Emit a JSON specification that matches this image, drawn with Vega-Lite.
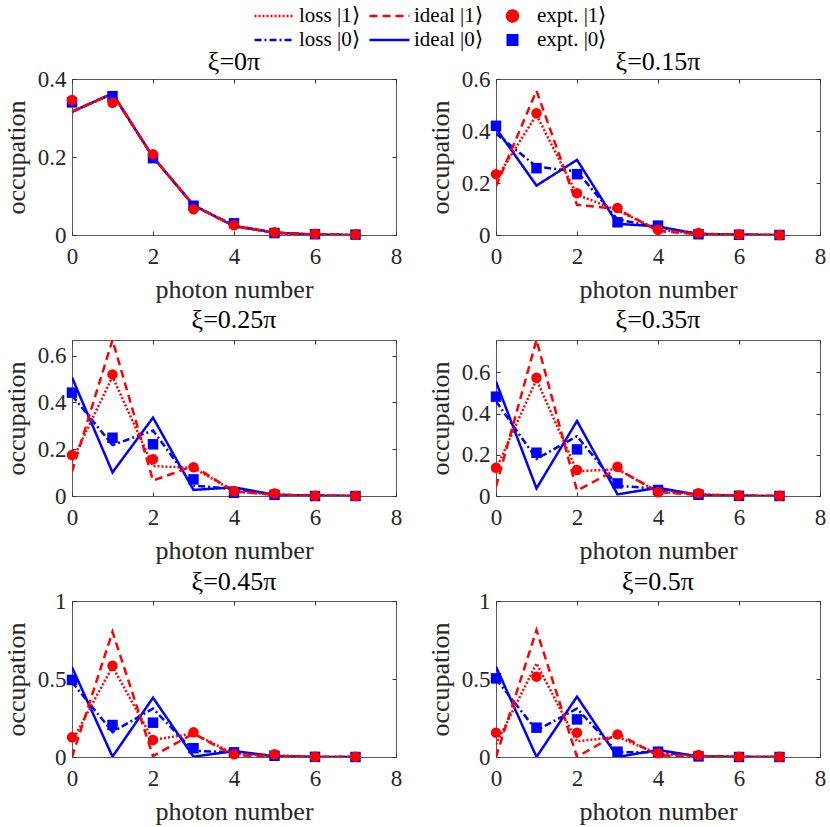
{
  "$schema": "https://vega.github.io/schema/vega-lite/v6.json",
  "padding": {"left": 2, "top": 6, "right": 5, "bottom": 5},
  "bounds": "flush",
  "columns": 2,
  "spacing": {"row": 105, "column": 100},
  "data": {"values": [
    {"p":"a","s":"loss |0⟩","n":0,"v":0.316},{"p":"a","s":"loss |0⟩","n":1,"v":0.362},{"p":"a","s":"loss |0⟩","n":2,"v":0.199},{"p":"a","s":"loss |0⟩","n":3,"v":0.077},{"p":"a","s":"loss |0⟩","n":4,"v":0.024},{"p":"a","s":"loss |0⟩","n":5,"v":0.006},{"p":"a","s":"loss |0⟩","n":6,"v":0.001},{"p":"a","s":"loss |0⟩","n":7,"v":0},
    {"p":"a","s":"ideal |0⟩","n":0,"v":0.316},{"p":"a","s":"ideal |0⟩","n":1,"v":0.363},{"p":"a","s":"ideal |0⟩","n":2,"v":0.2},{"p":"a","s":"ideal |0⟩","n":3,"v":0.076},{"p":"a","s":"ideal |0⟩","n":4,"v":0.023},{"p":"a","s":"ideal |0⟩","n":5,"v":0.006},{"p":"a","s":"ideal |0⟩","n":6,"v":0.001},{"p":"a","s":"ideal |0⟩","n":7,"v":0},
    {"p":"a","s":"loss |1⟩","n":0,"v":0.316},{"p":"a","s":"loss |1⟩","n":1,"v":0.363},{"p":"a","s":"loss |1⟩","n":2,"v":0.2},{"p":"a","s":"loss |1⟩","n":3,"v":0.076},{"p":"a","s":"loss |1⟩","n":4,"v":0.023},{"p":"a","s":"loss |1⟩","n":5,"v":0.006},{"p":"a","s":"loss |1⟩","n":6,"v":0.001},{"p":"a","s":"loss |1⟩","n":7,"v":0},
    {"p":"a","s":"ideal |1⟩","n":0,"v":0.316},{"p":"a","s":"ideal |1⟩","n":1,"v":0.363},{"p":"a","s":"ideal |1⟩","n":2,"v":0.2},{"p":"a","s":"ideal |1⟩","n":3,"v":0.076},{"p":"a","s":"ideal |1⟩","n":4,"v":0.023},{"p":"a","s":"ideal |1⟩","n":5,"v":0.006},{"p":"a","s":"ideal |1⟩","n":6,"v":0.001},{"p":"a","s":"ideal |1⟩","n":7,"v":0},
    {"p":"a","s":"expt. |0⟩","n":0,"v":0.34},{"p":"a","s":"expt. |0⟩","n":1,"v":0.356},{"p":"a","s":"expt. |0⟩","n":2,"v":0.197},{"p":"a","s":"expt. |0⟩","n":3,"v":0.075},{"p":"a","s":"expt. |0⟩","n":4,"v":0.03},{"p":"a","s":"expt. |0⟩","n":5,"v":0.005},{"p":"a","s":"expt. |0⟩","n":6,"v":0.002},{"p":"a","s":"expt. |0⟩","n":7,"v":0.001},
    {"p":"a","s":"expt. |1⟩","n":0,"v":0.346},{"p":"a","s":"expt. |1⟩","n":1,"v":0.339},{"p":"a","s":"expt. |1⟩","n":2,"v":0.207},{"p":"a","s":"expt. |1⟩","n":3,"v":0.066},{"p":"a","s":"expt. |1⟩","n":4,"v":0.025},{"p":"a","s":"expt. |1⟩","n":5,"v":0.007},{"p":"a","s":"expt. |1⟩","n":6,"v":0.003},{"p":"a","s":"expt. |1⟩","n":7,"v":0.001},

    {"p":"b","s":"loss |0⟩","n":0,"v":0.39},{"p":"b","s":"loss |0⟩","n":1,"v":0.263},{"p":"b","s":"loss |0⟩","n":2,"v":0.244},{"p":"b","s":"loss |0⟩","n":3,"v":0.06},{"p":"b","s":"loss |0⟩","n":4,"v":0.03},{"p":"b","s":"loss |0⟩","n":5,"v":0.005},{"p":"b","s":"loss |0⟩","n":6,"v":0.001},{"p":"b","s":"loss |0⟩","n":7,"v":0},
    {"p":"b","s":"ideal |0⟩","n":0,"v":0.41},{"p":"b","s":"ideal |0⟩","n":1,"v":0.19},{"p":"b","s":"ideal |0⟩","n":2,"v":0.289},{"p":"b","s":"ideal |0⟩","n":3,"v":0.043},{"p":"b","s":"ideal |0⟩","n":4,"v":0.033},{"p":"b","s":"ideal |0⟩","n":5,"v":0.003},{"p":"b","s":"ideal |0⟩","n":6,"v":0.001},{"p":"b","s":"ideal |0⟩","n":7,"v":0},
    {"p":"b","s":"loss |1⟩","n":0,"v":0.215},{"p":"b","s":"loss |1⟩","n":1,"v":0.462},{"p":"b","s":"loss |1⟩","n":2,"v":0.155},{"p":"b","s":"loss |1⟩","n":3,"v":0.095},{"p":"b","s":"loss |1⟩","n":4,"v":0.02},{"p":"b","s":"loss |1⟩","n":5,"v":0.005},{"p":"b","s":"loss |1⟩","n":6,"v":0.001},{"p":"b","s":"loss |1⟩","n":7,"v":0},
    {"p":"b","s":"ideal |1⟩","n":0,"v":0.187},{"p":"b","s":"ideal |1⟩","n":1,"v":0.555},{"p":"b","s":"ideal |1⟩","n":2,"v":0.116},{"p":"b","s":"ideal |1⟩","n":3,"v":0.1},{"p":"b","s":"ideal |1⟩","n":4,"v":0.015},{"p":"b","s":"ideal |1⟩","n":5,"v":0.003},{"p":"b","s":"ideal |1⟩","n":6,"v":0},{"p":"b","s":"ideal |1⟩","n":7,"v":0},
    {"p":"b","s":"expt. |0⟩","n":0,"v":0.42},{"p":"b","s":"expt. |0⟩","n":1,"v":0.257},{"p":"b","s":"expt. |0⟩","n":2,"v":0.234},{"p":"b","s":"expt. |0⟩","n":3,"v":0.049},{"p":"b","s":"expt. |0⟩","n":4,"v":0.036},{"p":"b","s":"expt. |0⟩","n":5,"v":0.003},{"p":"b","s":"expt. |0⟩","n":6,"v":0.001},{"p":"b","s":"expt. |0⟩","n":7,"v":0},
    {"p":"b","s":"expt. |1⟩","n":0,"v":0.234},{"p":"b","s":"expt. |1⟩","n":1,"v":0.468},{"p":"b","s":"expt. |1⟩","n":2,"v":0.161},{"p":"b","s":"expt. |1⟩","n":3,"v":0.104},{"p":"b","s":"expt. |1⟩","n":4,"v":0.02},{"p":"b","s":"expt. |1⟩","n":5,"v":0.008},{"p":"b","s":"expt. |1⟩","n":6,"v":0.002},{"p":"b","s":"expt. |1⟩","n":7,"v":0},

    {"p":"c","s":"loss |0⟩","n":0,"v":0.43},{"p":"c","s":"loss |0⟩","n":1,"v":0.218},{"p":"c","s":"loss |0⟩","n":2,"v":0.28},{"p":"c","s":"loss |0⟩","n":3,"v":0.045},{"p":"c","s":"loss |0⟩","n":4,"v":0.03},{"p":"c","s":"loss |0⟩","n":5,"v":0.006},{"p":"c","s":"loss |0⟩","n":6,"v":0.001},{"p":"c","s":"loss |0⟩","n":7,"v":0},
    {"p":"c","s":"ideal |0⟩","n":0,"v":0.507},{"p":"c","s":"ideal |0⟩","n":1,"v":0.101},{"p":"c","s":"ideal |0⟩","n":2,"v":0.335},{"p":"c","s":"ideal |0⟩","n":3,"v":0.026},{"p":"c","s":"ideal |0⟩","n":4,"v":0.037},{"p":"c","s":"ideal |0⟩","n":5,"v":0.005},{"p":"c","s":"ideal |0⟩","n":6,"v":0.002},{"p":"c","s":"ideal |0⟩","n":7,"v":0},
    {"p":"c","s":"loss |1⟩","n":0,"v":0.15},{"p":"c","s":"loss |1⟩","n":1,"v":0.51},{"p":"c","s":"loss |1⟩","n":2,"v":0.128},{"p":"c","s":"loss |1⟩","n":3,"v":0.12},{"p":"c","s":"loss |1⟩","n":4,"v":0.02},{"p":"c","s":"loss |1⟩","n":5,"v":0.006},{"p":"c","s":"loss |1⟩","n":6,"v":0.001},{"p":"c","s":"loss |1⟩","n":7,"v":0},
    {"p":"c","s":"ideal |1⟩","n":0,"v":0.104},{"p":"c","s":"ideal |1⟩","n":1,"v":0.667},{"p":"c","s":"ideal |1⟩","n":2,"v":0.066},{"p":"c","s":"ideal |1⟩","n":3,"v":0.128},{"p":"c","s":"ideal |1⟩","n":4,"v":0.02},{"p":"c","s":"ideal |1⟩","n":5,"v":0.005},{"p":"c","s":"ideal |1⟩","n":6,"v":0},{"p":"c","s":"ideal |1⟩","n":7,"v":0},
    {"p":"c","s":"expt. |0⟩","n":0,"v":0.442},{"p":"c","s":"expt. |0⟩","n":1,"v":0.249},{"p":"c","s":"expt. |0⟩","n":2,"v":0.221},{"p":"c","s":"expt. |0⟩","n":3,"v":0.071},{"p":"c","s":"expt. |0⟩","n":4,"v":0.014},{"p":"c","s":"expt. |0⟩","n":5,"v":0.005},{"p":"c","s":"expt. |0⟩","n":6,"v":0},{"p":"c","s":"expt. |0⟩","n":7,"v":0},
    {"p":"c","s":"expt. |1⟩","n":0,"v":0.175},{"p":"c","s":"expt. |1⟩","n":1,"v":0.52},{"p":"c","s":"expt. |1⟩","n":2,"v":0.157},{"p":"c","s":"expt. |1⟩","n":3,"v":0.123},{"p":"c","s":"expt. |1⟩","n":4,"v":0.021},{"p":"c","s":"expt. |1⟩","n":5,"v":0.011},{"p":"c","s":"expt. |1⟩","n":6,"v":0.001},{"p":"c","s":"expt. |1⟩","n":7,"v":0},

    {"p":"d","s":"loss |0⟩","n":0,"v":0.46},{"p":"d","s":"loss |0⟩","n":1,"v":0.18},{"p":"d","s":"loss |0⟩","n":2,"v":0.29},{"p":"d","s":"loss |0⟩","n":3,"v":0.05},{"p":"d","s":"loss |0⟩","n":4,"v":0.035},{"p":"d","s":"loss |0⟩","n":5,"v":0.006},{"p":"d","s":"loss |0⟩","n":6,"v":0.001},{"p":"d","s":"loss |0⟩","n":7,"v":0},
    {"p":"d","s":"ideal |0⟩","n":0,"v":0.555},{"p":"d","s":"ideal |0⟩","n":1,"v":0.037},{"p":"d","s":"ideal |0⟩","n":2,"v":0.364},{"p":"d","s":"ideal |0⟩","n":3,"v":0.008},{"p":"d","s":"ideal |0⟩","n":4,"v":0.04},{"p":"d","s":"ideal |0⟩","n":5,"v":0.005},{"p":"d","s":"ideal |0⟩","n":6,"v":0.001},{"p":"d","s":"ideal |0⟩","n":7,"v":0},
    {"p":"d","s":"loss |1⟩","n":0,"v":0.13},{"p":"d","s":"loss |1⟩","n":1,"v":0.565},{"p":"d","s":"loss |1⟩","n":2,"v":0.12},{"p":"d","s":"loss |1⟩","n":3,"v":0.13},{"p":"d","s":"loss |1⟩","n":4,"v":0.02},{"p":"d","s":"loss |1⟩","n":5,"v":0.01},{"p":"d","s":"loss |1⟩","n":6,"v":0.001},{"p":"d","s":"loss |1⟩","n":7,"v":0},
    {"p":"d","s":"ideal |1⟩","n":0,"v":0.045},{"p":"d","s":"ideal |1⟩","n":1,"v":0.757},{"p":"d","s":"ideal |1⟩","n":2,"v":0.026},{"p":"d","s":"ideal |1⟩","n":3,"v":0.131},{"p":"d","s":"ideal |1⟩","n":4,"v":0.02},{"p":"d","s":"ideal |1⟩","n":5,"v":0.005},{"p":"d","s":"ideal |1⟩","n":6,"v":0},{"p":"d","s":"ideal |1⟩","n":7,"v":0},
    {"p":"d","s":"expt. |0⟩","n":0,"v":0.482},{"p":"d","s":"expt. |0⟩","n":1,"v":0.21},{"p":"d","s":"expt. |0⟩","n":2,"v":0.226},{"p":"d","s":"expt. |0⟩","n":3,"v":0.061},{"p":"d","s":"expt. |0⟩","n":4,"v":0.029},{"p":"d","s":"expt. |0⟩","n":5,"v":0.006},{"p":"d","s":"expt. |0⟩","n":6,"v":0.001},{"p":"d","s":"expt. |0⟩","n":7,"v":0},
    {"p":"d","s":"expt. |1⟩","n":0,"v":0.137},{"p":"d","s":"expt. |1⟩","n":1,"v":0.574},{"p":"d","s":"expt. |1⟩","n":2,"v":0.126},{"p":"d","s":"expt. |1⟩","n":3,"v":0.142},{"p":"d","s":"expt. |1⟩","n":4,"v":0.018},{"p":"d","s":"expt. |1⟩","n":5,"v":0.013},{"p":"d","s":"expt. |1⟩","n":6,"v":0.002},{"p":"d","s":"expt. |1⟩","n":7,"v":0.001},

    {"p":"e","s":"loss |0⟩","n":0,"v":0.48},{"p":"e","s":"loss |0⟩","n":1,"v":0.16},{"p":"e","s":"loss |0⟩","n":2,"v":0.31},{"p":"e","s":"loss |0⟩","n":3,"v":0.04},{"p":"e","s":"loss |0⟩","n":4,"v":0.03},{"p":"e","s":"loss |0⟩","n":5,"v":0.006},{"p":"e","s":"loss |0⟩","n":6,"v":0.001},{"p":"e","s":"loss |0⟩","n":7,"v":0},
    {"p":"e","s":"ideal |0⟩","n":0,"v":0.575},{"p":"e","s":"ideal |0⟩","n":1,"v":0.002},{"p":"e","s":"ideal |0⟩","n":2,"v":0.38},{"p":"e","s":"ideal |0⟩","n":3,"v":0.002},{"p":"e","s":"ideal |0⟩","n":4,"v":0.038},{"p":"e","s":"ideal |0⟩","n":5,"v":0.005},{"p":"e","s":"ideal |0⟩","n":6,"v":0},{"p":"e","s":"ideal |0⟩","n":7,"v":0},
    {"p":"e","s":"loss |1⟩","n":0,"v":0.1},{"p":"e","s":"loss |1⟩","n":1,"v":0.58},{"p":"e","s":"loss |1⟩","n":2,"v":0.11},{"p":"e","s":"loss |1⟩","n":3,"v":0.15},{"p":"e","s":"loss |1⟩","n":4,"v":0.02},{"p":"e","s":"loss |1⟩","n":5,"v":0.01},{"p":"e","s":"loss |1⟩","n":6,"v":0.001},{"p":"e","s":"loss |1⟩","n":7,"v":0},
    {"p":"e","s":"ideal |1⟩","n":0,"v":0},{"p":"e","s":"ideal |1⟩","n":1,"v":0.803},{"p":"e","s":"ideal |1⟩","n":2,"v":0.006},{"p":"e","s":"ideal |1⟩","n":3,"v":0.15},{"p":"e","s":"ideal |1⟩","n":4,"v":0.01},{"p":"e","s":"ideal |1⟩","n":5,"v":0.005},{"p":"e","s":"ideal |1⟩","n":6,"v":0},{"p":"e","s":"ideal |1⟩","n":7,"v":0},
    {"p":"e","s":"expt. |0⟩","n":0,"v":0.494},{"p":"e","s":"expt. |0⟩","n":1,"v":0.205},{"p":"e","s":"expt. |0⟩","n":2,"v":0.22},{"p":"e","s":"expt. |0⟩","n":3,"v":0.056},{"p":"e","s":"expt. |0⟩","n":4,"v":0.03},{"p":"e","s":"expt. |0⟩","n":5,"v":0.008},{"p":"e","s":"expt. |0⟩","n":6,"v":0.001},{"p":"e","s":"expt. |0⟩","n":7,"v":0},
    {"p":"e","s":"expt. |1⟩","n":0,"v":0.126},{"p":"e","s":"expt. |1⟩","n":1,"v":0.585},{"p":"e","s":"expt. |1⟩","n":2,"v":0.109},{"p":"e","s":"expt. |1⟩","n":3,"v":0.158},{"p":"e","s":"expt. |1⟩","n":4,"v":0.017},{"p":"e","s":"expt. |1⟩","n":5,"v":0.017},{"p":"e","s":"expt. |1⟩","n":6,"v":0.002},{"p":"e","s":"expt. |1⟩","n":7,"v":0.002},

    {"p":"f","s":"loss |0⟩","n":0,"v":0.5},{"p":"f","s":"loss |0⟩","n":1,"v":0.17},{"p":"f","s":"loss |0⟩","n":2,"v":0.31},{"p":"f","s":"loss |0⟩","n":3,"v":0.03},{"p":"f","s":"loss |0⟩","n":4,"v":0.03},{"p":"f","s":"loss |0⟩","n":5,"v":0.006},{"p":"f","s":"loss |0⟩","n":6,"v":0.001},{"p":"f","s":"loss |0⟩","n":7,"v":0},
    {"p":"f","s":"ideal |0⟩","n":0,"v":0.579},{"p":"f","s":"ideal |0⟩","n":1,"v":0},{"p":"f","s":"ideal |0⟩","n":2,"v":0.387},{"p":"f","s":"ideal |0⟩","n":3,"v":0},{"p":"f","s":"ideal |0⟩","n":4,"v":0.045},{"p":"f","s":"ideal |0⟩","n":5,"v":0.004},{"p":"f","s":"ideal |0⟩","n":6,"v":0},{"p":"f","s":"ideal |0⟩","n":7,"v":0},
    {"p":"f","s":"loss |1⟩","n":0,"v":0.08},{"p":"f","s":"loss |1⟩","n":1,"v":0.6},{"p":"f","s":"loss |1⟩","n":2,"v":0.1},{"p":"f","s":"loss |1⟩","n":3,"v":0.13},{"p":"f","s":"loss |1⟩","n":4,"v":0.02},{"p":"f","s":"loss |1⟩","n":5,"v":0.005},{"p":"f","s":"loss |1⟩","n":6,"v":0.001},{"p":"f","s":"loss |1⟩","n":7,"v":0},
    {"p":"f","s":"ideal |1⟩","n":0,"v":0},{"p":"f","s":"ideal |1⟩","n":1,"v":0.814},{"p":"f","s":"ideal |1⟩","n":2,"v":0},{"p":"f","s":"ideal |1⟩","n":3,"v":0.15},{"p":"f","s":"ideal |1⟩","n":4,"v":0.01},{"p":"f","s":"ideal |1⟩","n":5,"v":0.004},{"p":"f","s":"ideal |1⟩","n":6,"v":0},{"p":"f","s":"ideal |1⟩","n":7,"v":0},
    {"p":"f","s":"expt. |0⟩","n":0,"v":0.504},{"p":"f","s":"expt. |0⟩","n":1,"v":0.188},{"p":"f","s":"expt. |0⟩","n":2,"v":0.241},{"p":"f","s":"expt. |0⟩","n":3,"v":0.034},{"p":"f","s":"expt. |0⟩","n":4,"v":0.034},{"p":"f","s":"expt. |0⟩","n":5,"v":0.004},{"p":"f","s":"expt. |0⟩","n":6,"v":0},{"p":"f","s":"expt. |0⟩","n":7,"v":0},
    {"p":"f","s":"expt. |1⟩","n":0,"v":0.156},{"p":"f","s":"expt. |1⟩","n":1,"v":0.515},{"p":"f","s":"expt. |1⟩","n":2,"v":0.156},{"p":"f","s":"expt. |1⟩","n":3,"v":0.145},{"p":"f","s":"expt. |1⟩","n":4,"v":0.024},{"p":"f","s":"expt. |1⟩","n":5,"v":0.013},{"p":"f","s":"expt. |1⟩","n":6,"v":0.002},{"p":"f","s":"expt. |1⟩","n":7,"v":0.001}
  ]},
  "resolve": {"scale": {"x": "independent", "y": "independent", "color": "shared", "strokeDash": "shared", "shape": "shared"}},
  "concat": [
    {
      "width": 324, "height": 156, "title": {"text": "ξ=0π", "offset": -7},
      "transform": [{"filter": "datum.p == 'a'"}],
      "resolve": {"axis": {"x": "independent", "y": "independent"}},
      "layer": [
        {"mark": {"type": "line", "strokeWidth": 2.5, "clip": true},
         "transform": [{"filter": "indexof(datum.s, 'expt') < 0"}],
         "encoding": {
           "x": {"field": "n", "type": "quantitative", "scale": {"domain": [0, 8], "nice": false, "zero": false}, "axis": {"values": [0, 2, 4, 6, 8], "title": "photon number"}},
           "y": {"field": "v", "type": "quantitative", "scale": {"domain": [0, 0.4], "nice": false, "zero": false}, "axis": {"values": [0, 0.2, 0.4], "title": "occupation", "format": "~g"}},
           "color": {"field": "s", "type": "nominal",
             "scale": {"domain": ["loss |1⟩", "ideal |1⟩", "expt. |1⟩", "loss |0⟩", "ideal |0⟩", "expt. |0⟩"], "range": ["#ff0000", "#ff0000", "#ff0000", "#0000ff", "#0000ff", "#0000ff"]},
             "legend": {
               "orient": "none", "legendX": 181, "legendY": -73, "direction": "horizontal", "columns": 3, "title": null,
               "symbolSize": 1600, "symbolType": "stroke", "symbolStrokeWidth": 2.5, "clipHeight": 20,
               "labelFont": "Liberation Serif, Times New Roman, serif", "labelFontSize": 21, "labelColor": "#000000", "labelOffset": 3,
               "columnPadding": 8, "rowPadding": 3, "padding": 0,
               "encode": {"symbols": {"update": {
                 "shape": {"signal": "datum.value === 'expt. |1⟩' ? 'circle' : datum.value === 'expt. |0⟩' ? 'square' : 'stroke'"},
                 "size": {"signal": "datum.value === 'expt. |1⟩' ? 120 : datum.value === 'expt. |0⟩' ? 90 : 1600"},
                 "fill": {"signal": "datum.value === 'expt. |1⟩' ? '#ff0000' : datum.value === 'expt. |0⟩' ? '#0000ff' : 'transparent'"},
                 "stroke": {"signal": "(datum.value === 'expt. |1⟩' || datum.value === 'expt. |0⟩') ? 'transparent' : indexof(datum.value, '1') >= 0 ? '#ff0000' : '#0000ff'"},
                 "strokeDash": {"signal": "datum.value === 'loss |1⟩' ? [2, 2] : datum.value === 'ideal |1⟩' ? [8, 5] : datum.value === 'loss |0⟩' ? [7, 3, 2, 3] : [1, 0]"},
                 "strokeWidth": {"value": 2.5},
                 "opacity": {"value": 1}
               }}}
             }},
           "strokeDash": {"field": "s", "type": "nominal", "scale": {"domain": ["loss |1⟩", "ideal |1⟩", "loss |0⟩", "ideal |0⟩"], "range": [[2, 2], [8, 5], [7, 3, 2, 3], [1, 0]]}, "legend": null}
         }},
        {"mark": {"type": "point", "filled": true, "opacity": 1, "size": 110, "strokeWidth": 0},
         "transform": [{"filter": "indexof(datum.s, 'expt') >= 0"}],
         "encoding": {
           "x": {"field": "n", "type": "quantitative", "scale": {"domain": [0, 8], "nice": false, "zero": false}, "axis": {"orient": "top", "labels": false, "title": null, "values": [0, 2, 4, 6, 8]}},
           "y": {"field": "v", "type": "quantitative", "scale": {"domain": [0, 0.4], "nice": false, "zero": false}, "axis": {"orient": "right", "labels": false, "title": null, "values": [0, 0.2, 0.4]}},
           "color": {"field": "s", "type": "nominal"},
           "shape": {"field": "s", "type": "nominal", "scale": {"domain": ["expt. |0⟩", "expt. |1⟩"], "range": ["square", "circle"]}, "legend": null}
         }}
      ]
    },
    {
      "width": 324, "height": 156, "title": {"text": "ξ=0.15π", "offset": -7},
      "transform": [{"filter": "datum.p == 'b'"}],
      "resolve": {"axis": {"x": "independent", "y": "independent"}},
      "layer": [
        {"mark": {"type": "line", "strokeWidth": 2.5, "clip": true},
         "transform": [{"filter": "indexof(datum.s, 'expt') < 0"}],
         "encoding": {
           "x": {"field": "n", "type": "quantitative", "scale": {"domain": [0, 8], "nice": false, "zero": false}, "axis": {"values": [0, 2, 4, 6, 8], "title": "photon number"}},
           "y": {"field": "v", "type": "quantitative", "scale": {"domain": [0, 0.6], "nice": false, "zero": false}, "axis": {"values": [0, 0.2, 0.4, 0.6], "title": "occupation", "format": "~g"}},
           "color": {"field": "s", "type": "nominal"},
           "strokeDash": {"field": "s", "type": "nominal", "scale": {"domain": ["loss |1⟩", "ideal |1⟩", "loss |0⟩", "ideal |0⟩"], "range": [[2, 2], [8, 5], [7, 3, 2, 3], [1, 0]]}, "legend": null}
         }},
        {"mark": {"type": "point", "filled": true, "opacity": 1, "size": 110, "strokeWidth": 0},
         "transform": [{"filter": "indexof(datum.s, 'expt') >= 0"}],
         "encoding": {
           "x": {"field": "n", "type": "quantitative", "scale": {"domain": [0, 8], "nice": false, "zero": false}, "axis": {"orient": "top", "labels": false, "title": null, "values": [0, 2, 4, 6, 8]}},
           "y": {"field": "v", "type": "quantitative", "scale": {"domain": [0, 0.6], "nice": false, "zero": false}, "axis": {"orient": "right", "labels": false, "title": null, "values": [0, 0.2, 0.4, 0.6]}},
           "color": {"field": "s", "type": "nominal"},
           "shape": {"field": "s", "type": "nominal", "scale": {"domain": ["expt. |0⟩", "expt. |1⟩"], "range": ["square", "circle"]}, "legend": null}
         }}
      ]
    },
    {
      "width": 324, "height": 156, "title": {"text": "ξ=0.25π", "offset": 7},
      "transform": [{"filter": "datum.p == 'c'"}],
      "resolve": {"axis": {"x": "independent", "y": "independent"}},
      "layer": [
        {"mark": {"type": "line", "strokeWidth": 2.5, "clip": true},
         "transform": [{"filter": "indexof(datum.s, 'expt') < 0"}],
         "encoding": {
           "x": {"field": "n", "type": "quantitative", "scale": {"domain": [0, 8], "nice": false, "zero": false}, "axis": {"values": [0, 2, 4, 6, 8], "title": "photon number"}},
           "y": {"field": "v", "type": "quantitative", "scale": {"domain": [0, 0.667], "nice": false, "zero": false}, "axis": {"values": [0, 0.2, 0.4, 0.6], "title": "occupation", "format": "~g"}},
           "color": {"field": "s", "type": "nominal"},
           "strokeDash": {"field": "s", "type": "nominal", "scale": {"domain": ["loss |1⟩", "ideal |1⟩", "loss |0⟩", "ideal |0⟩"], "range": [[2, 2], [8, 5], [7, 3, 2, 3], [1, 0]]}, "legend": null}
         }},
        {"mark": {"type": "point", "filled": true, "opacity": 1, "size": 110, "strokeWidth": 0},
         "transform": [{"filter": "indexof(datum.s, 'expt') >= 0"}],
         "encoding": {
           "x": {"field": "n", "type": "quantitative", "scale": {"domain": [0, 8], "nice": false, "zero": false}, "axis": {"orient": "top", "labels": false, "title": null, "values": [0, 2, 4, 6, 8]}},
           "y": {"field": "v", "type": "quantitative", "scale": {"domain": [0, 0.667], "nice": false, "zero": false}, "axis": {"orient": "right", "labels": false, "title": null, "values": [0, 0.2, 0.4, 0.6]}},
           "color": {"field": "s", "type": "nominal"},
           "shape": {"field": "s", "type": "nominal", "scale": {"domain": ["expt. |0⟩", "expt. |1⟩"], "range": ["square", "circle"]}, "legend": null}
         }}
      ]
    },
    {
      "width": 324, "height": 156, "title": {"text": "ξ=0.35π", "offset": 7},
      "transform": [{"filter": "datum.p == 'd'"}],
      "resolve": {"axis": {"x": "independent", "y": "independent"}},
      "layer": [
        {"mark": {"type": "line", "strokeWidth": 2.5, "clip": true},
         "transform": [{"filter": "indexof(datum.s, 'expt') < 0"}],
         "encoding": {
           "x": {"field": "n", "type": "quantitative", "scale": {"domain": [0, 8], "nice": false, "zero": false}, "axis": {"values": [0, 2, 4, 6, 8], "title": "photon number"}},
           "y": {"field": "v", "type": "quantitative", "scale": {"domain": [0, 0.757], "nice": false, "zero": false}, "axis": {"values": [0, 0.2, 0.4, 0.6], "title": "occupation", "format": "~g"}},
           "color": {"field": "s", "type": "nominal"},
           "strokeDash": {"field": "s", "type": "nominal", "scale": {"domain": ["loss |1⟩", "ideal |1⟩", "loss |0⟩", "ideal |0⟩"], "range": [[2, 2], [8, 5], [7, 3, 2, 3], [1, 0]]}, "legend": null}
         }},
        {"mark": {"type": "point", "filled": true, "opacity": 1, "size": 110, "strokeWidth": 0},
         "transform": [{"filter": "indexof(datum.s, 'expt') >= 0"}],
         "encoding": {
           "x": {"field": "n", "type": "quantitative", "scale": {"domain": [0, 8], "nice": false, "zero": false}, "axis": {"orient": "top", "labels": false, "title": null, "values": [0, 2, 4, 6, 8]}},
           "y": {"field": "v", "type": "quantitative", "scale": {"domain": [0, 0.757], "nice": false, "zero": false}, "axis": {"orient": "right", "labels": false, "title": null, "values": [0, 0.2, 0.4, 0.6]}},
           "color": {"field": "s", "type": "nominal"},
           "shape": {"field": "s", "type": "nominal", "scale": {"domain": ["expt. |0⟩", "expt. |1⟩"], "range": ["square", "circle"]}, "legend": null}
         }}
      ]
    },
    {
      "width": 324, "height": 156, "title": {"text": "ξ=0.45π", "offset": -5},
      "transform": [{"filter": "datum.p == 'e'"}],
      "resolve": {"axis": {"x": "independent", "y": "independent"}},
      "layer": [
        {"mark": {"type": "line", "strokeWidth": 2.5, "clip": true},
         "transform": [{"filter": "indexof(datum.s, 'expt') < 0"}],
         "encoding": {
           "x": {"field": "n", "type": "quantitative", "scale": {"domain": [0, 8], "nice": false, "zero": false}, "axis": {"values": [0, 2, 4, 6, 8], "title": "photon number"}},
           "y": {"field": "v", "type": "quantitative", "scale": {"domain": [0, 1], "nice": false, "zero": false}, "axis": {"values": [0, 0.5, 1], "title": "occupation", "format": "~g"}},
           "color": {"field": "s", "type": "nominal"},
           "strokeDash": {"field": "s", "type": "nominal", "scale": {"domain": ["loss |1⟩", "ideal |1⟩", "loss |0⟩", "ideal |0⟩"], "range": [[2, 2], [8, 5], [7, 3, 2, 3], [1, 0]]}, "legend": null}
         }},
        {"mark": {"type": "point", "filled": true, "opacity": 1, "size": 110, "strokeWidth": 0},
         "transform": [{"filter": "indexof(datum.s, 'expt') >= 0"}],
         "encoding": {
           "x": {"field": "n", "type": "quantitative", "scale": {"domain": [0, 8], "nice": false, "zero": false}, "axis": {"orient": "top", "labels": false, "title": null, "values": [0, 2, 4, 6, 8]}},
           "y": {"field": "v", "type": "quantitative", "scale": {"domain": [0, 1], "nice": false, "zero": false}, "axis": {"orient": "right", "labels": false, "title": null, "values": [0, 0.5, 1]}},
           "color": {"field": "s", "type": "nominal"},
           "shape": {"field": "s", "type": "nominal", "scale": {"domain": ["expt. |0⟩", "expt. |1⟩"], "range": ["square", "circle"]}, "legend": null}
         }}
      ]
    },
    {
      "width": 324, "height": 156, "title": {"text": "ξ=0.5π", "offset": -5},
      "transform": [{"filter": "datum.p == 'f'"}],
      "resolve": {"axis": {"x": "independent", "y": "independent"}},
      "layer": [
        {"mark": {"type": "line", "strokeWidth": 2.5, "clip": true},
         "transform": [{"filter": "indexof(datum.s, 'expt') < 0"}],
         "encoding": {
           "x": {"field": "n", "type": "quantitative", "scale": {"domain": [0, 8], "nice": false, "zero": false}, "axis": {"values": [0, 2, 4, 6, 8], "title": "photon number"}},
           "y": {"field": "v", "type": "quantitative", "scale": {"domain": [0, 1], "nice": false, "zero": false}, "axis": {"values": [0, 0.5, 1], "title": "occupation", "format": "~g"}},
           "color": {"field": "s", "type": "nominal"},
           "strokeDash": {"field": "s", "type": "nominal", "scale": {"domain": ["loss |1⟩", "ideal |1⟩", "loss |0⟩", "ideal |0⟩"], "range": [[2, 2], [8, 5], [7, 3, 2, 3], [1, 0]]}, "legend": null}
         }},
        {"mark": {"type": "point", "filled": true, "opacity": 1, "size": 110, "strokeWidth": 0},
         "transform": [{"filter": "indexof(datum.s, 'expt') >= 0"}],
         "encoding": {
           "x": {"field": "n", "type": "quantitative", "scale": {"domain": [0, 8], "nice": false, "zero": false}, "axis": {"orient": "top", "labels": false, "title": null, "values": [0, 2, 4, 6, 8]}},
           "y": {"field": "v", "type": "quantitative", "scale": {"domain": [0, 1], "nice": false, "zero": false}, "axis": {"orient": "right", "labels": false, "title": null, "values": [0, 0.5, 1]}},
           "color": {"field": "s", "type": "nominal"},
           "shape": {"field": "s", "type": "nominal", "scale": {"domain": ["expt. |0⟩", "expt. |1⟩"], "range": ["square", "circle"]}, "legend": null}
         }}
      ]
    }
  ],
  "config": {
    "font": "Liberation Serif, Times New Roman, serif",
    "view": {"stroke": "#5a5a5a", "strokeWidth": 1},
    "axis": {"grid": false, "domain": false, "tickSize": -4, "tickColor": "#333333", "tickWidth": 1, "labelFlush": false,
             "labelFont": "Liberation Serif, Times New Roman, serif", "labelFontSize": 23, "labelColor": "#262626",
             "titleFont": "Liberation Serif, Times New Roman, serif", "titleFontSize": 26, "titleFontWeight": "normal", "titleColor": "#262626"},
    "axisX": {"labelPadding": 14, "titlePadding": 8},
    "axisY": {"labelPadding": 10, "titlePadding": 8},
    "title": {"font": "Liberation Serif, Times New Roman, serif", "fontSize": 26, "fontWeight": "normal", "color": "#000000", "baseline": "bottom", "anchor": "middle", "frame": "group"}
  }
}
